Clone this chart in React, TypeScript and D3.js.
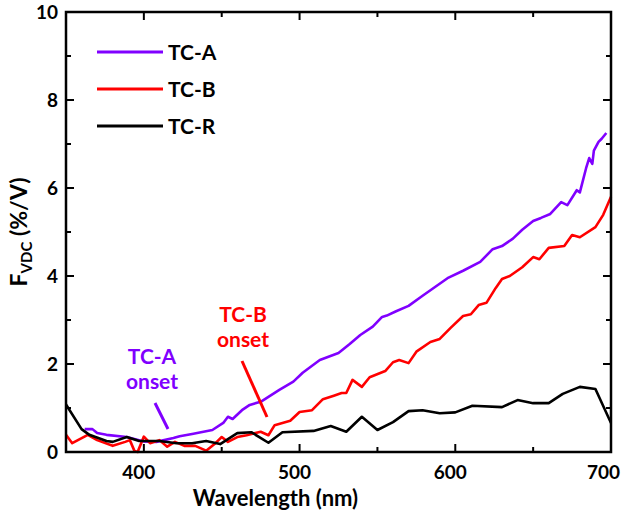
import React, {useEffect, useRef} from 'react'
import * as d3 from 'd3'

// TC-A (purple)
const nmA = [362, 367, 370, 376, 389, 400, 408, 419, 423, 431, 444, 451, 454, 457, 463, 468, 475, 487, 496, 502, 513, 525, 532, 539, 547, 553, 556, 562, 570, 579, 587, 595, 605, 616, 624, 630, 637, 643, 650, 655, 661, 668, 672, 678, 680, 684, 686, 688, 689, 692, 694, 697]
const valA = [0.52, 0.52, 0.43, 0.39, 0.34, 0.24, 0.23, 0.32, 0.36, 0.41, 0.5, 0.66, 0.8, 0.75, 0.95, 1.07, 1.14, 1.41, 1.6, 1.8, 2.09, 2.25, 2.45, 2.66, 2.85, 3.07, 3.1, 3.2, 3.32, 3.55, 3.75, 3.95, 4.12, 4.32, 4.61, 4.68, 4.85, 5.05, 5.25, 5.32, 5.41, 5.68, 5.61, 5.95, 5.9, 6.45, 6.68, 6.55, 6.85, 7.05, 7.12, 7.25]

// TC-B (red)
const nmB = [350, 354, 364, 370, 380, 388, 391, 394, 396, 400, 404, 410, 415, 420, 426, 433, 440, 446, 450, 454, 460, 466, 475, 480, 484, 494, 500, 508, 515, 522, 527, 530, 534, 540, 545, 555, 560, 564, 570, 575, 584, 590, 597, 605, 610, 615, 620, 626, 630, 635, 643, 650, 654, 660, 670, 675, 680, 690, 695, 700]
const valB = [0.39, 0.2, 0.39, 0.27, 0.14, 0.23, 0.27, 0.02, 0.0, 0.35, 0.2, 0.27, 0.12, 0.23, 0.14, 0.14, 0.03, 0.2, 0.34, 0.23, 0.34, 0.38, 0.46, 0.38, 0.61, 0.71, 0.91, 0.95, 1.2, 1.28, 1.34, 1.34, 1.64, 1.48, 1.7, 1.84, 2.04, 2.09, 2.02, 2.28, 2.5, 2.57, 2.82, 3.09, 3.13, 3.34, 3.39, 3.73, 3.93, 4.0, 4.2, 4.43, 4.38, 4.64, 4.68, 4.93, 4.88, 5.11, 5.39, 5.8]

// TC-R (black)
const nmR = [350, 360, 365, 376, 380, 389, 397, 410, 421, 431, 440, 449, 460, 469, 480, 489, 509, 520, 530, 540, 550, 560, 570, 579, 590, 600, 611, 630, 640, 650, 660, 669, 680, 690, 700]
const valR = [1.08, 0.52, 0.39, 0.25, 0.23, 0.34, 0.25, 0.25, 0.2, 0.2, 0.25, 0.18, 0.43, 0.45, 0.21, 0.45, 0.48, 0.59, 0.46, 0.8, 0.5, 0.68, 0.93, 0.95, 0.88, 0.9, 1.05, 1.02, 1.18, 1.11, 1.11, 1.32, 1.48, 1.43, 0.66]

const seriesNames = ['TC-A', 'TC-B', 'TC-R']
const seriesColors = ['#8000ff', '#ff0000', '#000000']
const xTicks = [400, 500, 600, 700]
const yTicks = [0, 2, 4, 6, 8, 10]

const W = 621, H = 516
const m = {left: 66, right: 10, top: 12, bottom: 64}
const FONT = 'Lato, "Open Sans", sans-serif'

const App = () => {
	const ref = useRef<SVGSVGElement>(null)

	useEffect(() => {
		const svg = d3.select(ref.current)
		svg.selectAll('*').remove()

		const x = d3.scaleLinear().domain([350, 700]).range([m.left, W - m.right])
		const y = d3.scaleLinear().domain([0, 10]).range([H - m.bottom, m.top])
		const x0 = x(350), x1 = x(700), y0 = y(0), y1 = y(10)

		const line = d3.line<[number, number]>().x(d => x(d[0])).y(d => y(d[1]))
		const data = [
			d3.zip(nmA, valA),
			d3.zip(nmB, valB),
			d3.zip(nmR, valR),
		] as [number, number][][]

		const plot = svg.append('g')
		data.forEach((d, i) => {
			plot.append('path')
				.attr('d', line(d))
				.attr('fill', 'none')
				.attr('stroke', seriesColors[i])
				.attr('stroke-width', 2.6)
				.attr('stroke-linejoin', 'round')
		})

		// ticks, inward on all four sides
		const tk = svg.append('g').attr('stroke', '#000').attr('stroke-width', 2)
		d3.range(350, 701, 50).forEach(v => {
			const len = v % 100 === 0 ? 8 : 5
			tk.append('line').attr('x1', x(v)).attr('x2', x(v)).attr('y1', y0).attr('y2', y0 - len)
			tk.append('line').attr('x1', x(v)).attr('x2', x(v)).attr('y1', y1).attr('y2', y1 + len)
		})
		d3.range(0, 11, 1).forEach(v => {
			const len = v % 2 === 0 ? 8 : 5
			tk.append('line').attr('y1', y(v)).attr('y2', y(v)).attr('x1', x0).attr('x2', x0 + len)
			tk.append('line').attr('y1', y(v)).attr('y2', y(v)).attr('x1', x1).attr('x2', x1 - len)
		})

		svg.append('rect')
			.attr('x', x0).attr('y', y1)
			.attr('width', x1 - x0).attr('height', y0 - y1)
			.attr('fill', 'none').attr('stroke', '#000').attr('stroke-width', 2.5)

		// tick labels (last one kept inside the page edge)
		svg.selectAll('.xl').data(xTicks).enter().append('text')
			.attr('x', d => d === 700 ? W - 1 : x(d) - 5).attr('y', y0 + 27)
			.attr('text-anchor', d => d === 700 ? 'end' : 'middle')
			.style('font', `bold 19px ${FONT}`)
			.text(d => d)
		svg.selectAll('.yl').data(yTicks).enter().append('text')
			.attr('x', x0 - 8).attr('y', d => y(d) + 7)
			.attr('text-anchor', 'end')
			.style('font', `bold 19px ${FONT}`)
			.text(d => d)

		// axis titles
		svg.append('text')
			.attr('x', (x0 + x1) / 2 - 63).attr('y', H - 10)
			.attr('text-anchor', 'middle')
			.style('font', `bold 22px ${FONT}`)
			.text('Wavelength (nm)')

		const yt = svg.append('text')
			.attr('transform', `translate(27,${(y0 + y1) / 2}) rotate(-90)`)
			.attr('text-anchor', 'middle')
			.style('font', `bold 23px ${FONT}`)
		yt.append('tspan').text('F')
		yt.append('tspan').attr('dy', 5).style('font-size', '15px').text('VDC')
		yt.append('tspan').attr('dy', -5).text(' (%/V)')

		// legend
		seriesNames.forEach((name, i) => {
			const ly = 52 + i * 37
			svg.append('line')
				.attr('x1', 97).attr('x2', 163).attr('y1', ly).attr('y2', ly)
				.attr('stroke', seriesColors[i]).attr('stroke-width', 3)
			svg.append('text')
				.attr('x', 168).attr('y', ly + 8)
				.style('font', `bold 21px ${FONT}`)
				.text(name)
		})

		// onset annotations
		const ann = [
			{lines: ['TC-A', 'onset'], cx: 152, ty: 364, color: seriesColors[0], p: [[155, 403], [168, 429]]},
			{lines: ['TC-B', 'onset'], cx: 243, ty: 322, color: seriesColors[1], p: [[242, 361], [267, 417]]},
		]
		ann.forEach(a => {
			a.lines.forEach((t, j) => {
				svg.append('text')
					.attr('x', a.cx).attr('y', a.ty + j * 25)
					.attr('text-anchor', 'middle')
					.attr('fill', a.color)
					.style('font', `bold 21px ${FONT}`)
					.text(t)
			})
			svg.append('line')
				.attr('x1', a.p[0][0]).attr('y1', a.p[0][1])
				.attr('x2', a.p[1][0]).attr('y2', a.p[1][1])
				.attr('stroke', a.color).attr('stroke-width', 3)
		})
	}, [])

	return <svg ref={ref} width={W} height={H} style={{display: 'block', position: 'absolute', left: 0, top: 0, background: '#fff'}}/>
}

export default App
